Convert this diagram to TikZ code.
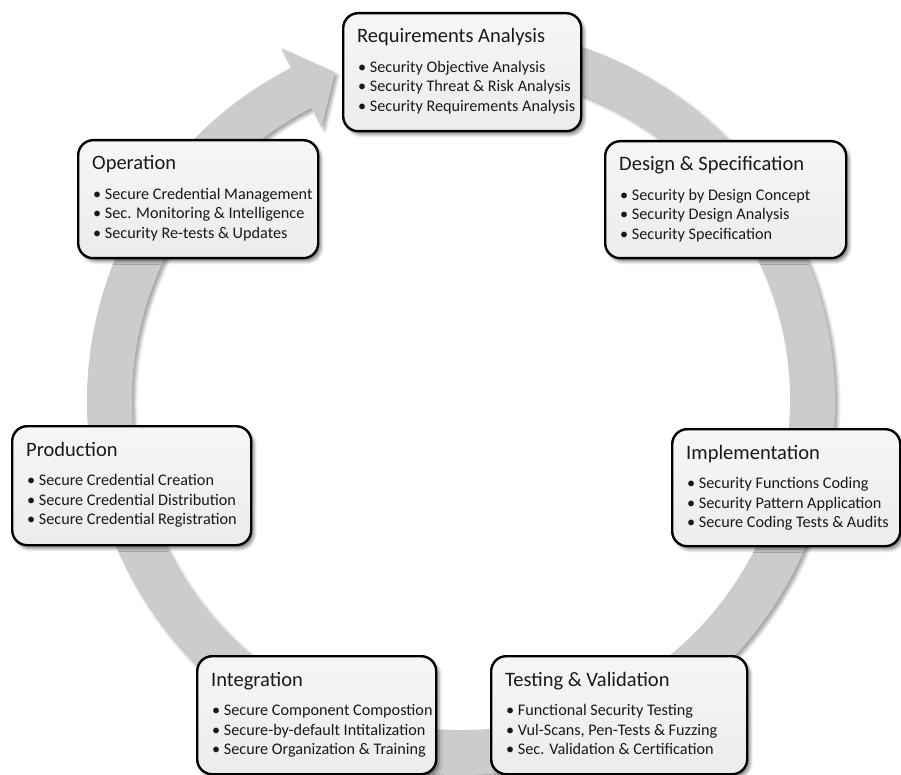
\documentclass[tikz,border=0pt]{standalone}
\usepackage{fontspec}
\setmainfont{Carlito}
\usetikzlibrary{shadows.blur}
\tikzset{
  phbox/.style={draw=black, line width=2.4pt, rounded corners=15pt,
    top color=gray!7, bottom color=gray!15,
    blur shadow={shadow xshift=3pt, shadow yshift=-3.5pt, shadow opacity=45, shadow blur radius=3pt},
    inner sep=0pt, anchor=north west},
  phtitle/.style={anchor=base west, inner sep=0pt, text=black!90, font=\fontsize{20.5}{24}\selectfont},
  phitem/.style={anchor=base west, inner sep=0pt, text=black!90, font=\fontsize{16.2}{19}\selectfont},
  ringfill/.style={fill=gray!40,
    blur shadow={shadow xshift=3pt, shadow yshift=-3pt, shadow opacity=35, shadow blur radius=3pt}},
}
\newcommand\phase[9]{%
  \node[phbox, minimum width=#4pt, minimum height=#5pt] (#1) at (#2,#3) {};
  \node[phtitle] (#1-t) at ([shift={(15,31)}]#1.north west) {#6};
  \node[phitem] (#1-a) at ([shift={(16,60.5)}]#1.north west) {• #7};
  \node[phitem] (#1-b) at ([shift={(16,80)}]#1.north west) {• #8};
  \node[phitem] (#1-c) at ([shift={(16,99.5)}]#1.north west) {• #9};
}
\begin{document}
\begin{tikzpicture}[x=1pt,y=-1pt]
\useasboundingbox (0,0) rectangle (901,775);
\coordinate (c) at (461,401);
\coordinate (o1) at ([shift={(-100:374)}]c);
\coordinate (h1) at ([shift={(243:396)}]c);
\coordinate (tip) at ([shift={(249:352)}]c);
\coordinate (h2) at ([shift={(243:307)}]c);
\coordinate (i2) at ([shift={(243:329)}]c);
\fill[ringfill] (o1) arc[start angle=-100, end angle=243, radius=374]
  -- (h1) -- (tip) -- (h2) -- (i2)
  arc[start angle=243, end angle=-100, radius=329] -- cycle;

\phase{req}{342}{12}{238}{118}{Requirements Analysis}{Security Objective Analysis}{Security Threat \& Risk Analysis}{Security Requirements Analysis}
\phase{des}{604}{140}{241}{117}{Design \& Specification}{Security by Design Concept}{Security Design Analysis}{Security Specification}
\phase{imp}{671}{428}{228}{117}{Implementation}{Security Functions Coding}{Security Pattern Application}{Secure Coding Tests \& Audits}
\phase{tst}{490}{655}{256}{118}{Testing \& Validation}{Functional Security Testing}{Vul-Scans, Pen-Tests \& Fuzzing}{Sec. Validation \& Certification}
\phase{int}{196}{655}{239}{118}{Integration}{Secure Component Compostion}{Secure-by-default Intitalization}{Secure Organization \& Training}
\phase{pro}{11}{425}{239}{119}{Production}{Secure Credential Creation}{Secure Credential Distribution}{Secure Credential Registration}
\phase{ope}{77}{139}{240}{118}{Operation}{Secure Credential Management}{Sec. Monitoring \& Intelligence}{Security Re-tests \& Updates}
\end{tikzpicture}
\end{document}
